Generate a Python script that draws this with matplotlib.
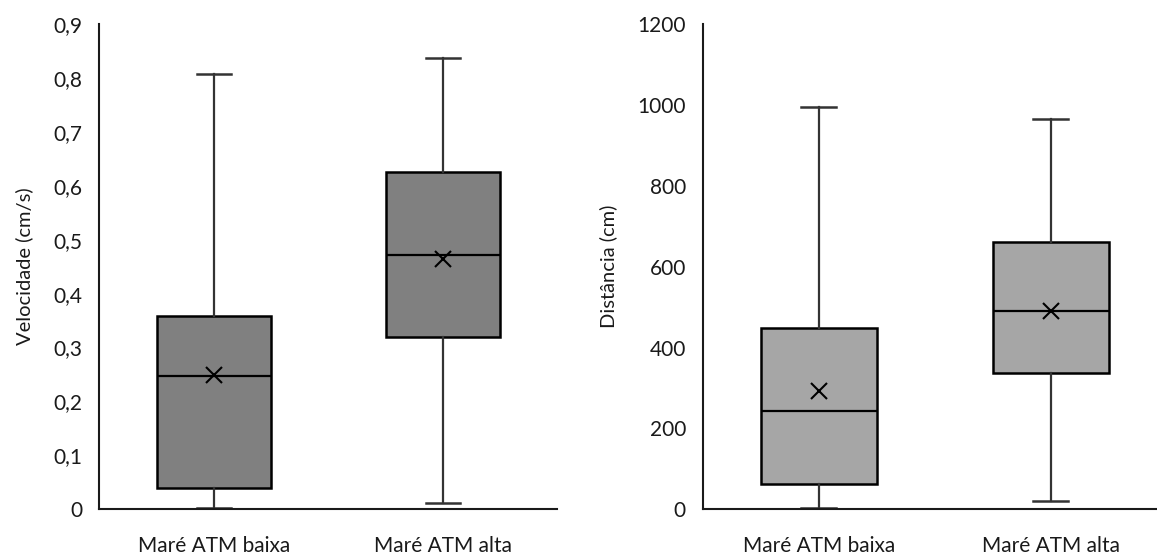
import matplotlib.pyplot as plt
from matplotlib.ticker import FuncFormatter

plt.rcParams['font.family'] = ['Lato', 'DejaVu Sans']

categories = ['Maré ATM baixa', 'Maré ATM alta']

# velocidade (cm/s)
vel_min = [0.002, 0.012]
vel_q1 = [0.039, 0.320]
vel_med = [0.247, 0.472]
vel_q3 = [0.359, 0.625]
vel_max = [0.807, 0.836]
vel_mean = [0.249, 0.464]

# distancia (cm)
dist_min = [2.5, 21]
dist_q1 = [63, 336]
dist_med = [243, 490]
dist_q3 = [448, 662]
dist_max = [994, 966]
dist_mean = [293, 490]


def stats(mins, q1s, meds, q3s, maxs, means):
    out = []
    for i in range(len(mins)):
        out.append(dict(whislo=mins[i], q1=q1s[i], med=meds[i], q3=q3s[i],
                        whishi=maxs[i], mean=means[i], fliers=[]))
    return out


def draw(ax, st, fill, ylim, yticks, ylabel, fmt):
    ax.bxp(st, positions=[1, 2], widths=0.5, capwidths=0.15, showmeans=True,
           patch_artist=True,
           boxprops=dict(facecolor=fill, edgecolor='black', linewidth=1.8),
           medianprops=dict(color='black', linewidth=1.6),
           whiskerprops=dict(color='#333333', linewidth=1.6),
           capprops=dict(color='#333333', linewidth=1.8),
           meanprops=dict(marker='x', markersize=11, markeredgecolor='black',
                          markeredgewidth=1.5))
    ax.set_xlim(0.5, 2.5)
    ax.set_ylim(*ylim)
    ax.set_yticks(yticks)
    ax.yaxis.set_major_formatter(FuncFormatter(fmt))
    ax.set_xticks([1, 2])
    ax.set_xticklabels(categories)
    ax.tick_params(length=0, labelsize=15, colors='#1a1a1a')
    ax.tick_params(axis='y', pad=12)
    ax.tick_params(axis='x', pad=19)
    for s in ['top', 'right']:
        ax.spines[s].set_visible(False)
    for s in ['left', 'bottom']:
        ax.spines[s].set_linewidth(1.5)
        ax.spines[s].set_color('#1a1a1a')
    ax.set_ylabel(ylabel, fontsize=14.5, color='#1a1a1a')


fig = plt.figure(figsize=(11.57, 5.54), dpi=100)
ax1 = fig.add_axes([0.0858, 0.0807, 0.396, 0.876])
ax2 = fig.add_axes([0.6073, 0.0807, 0.401, 0.876])

draw(ax1, stats(vel_min, vel_q1, vel_med, vel_q3, vel_max, vel_mean), '#808080',
     (0, 0.9), [i / 10 for i in range(10)], 'Velocidade (cm/s)',
     lambda v, p: '0' if v == 0 else f'{v:.1f}'.replace('.', ','))
draw(ax2, stats(dist_min, dist_q1, dist_med, dist_q3, dist_max, dist_mean), '#a6a6a6',
     (0, 1200), list(range(0, 1201, 200)), 'Distância (cm)',
     lambda v, p: f'{v:.0f}')
ax1.yaxis.set_label_coords(-0.145, 0.5)
ax2.yaxis.set_label_coords(-0.185, 0.5)

fig.savefig('out.png', dpi=100)
